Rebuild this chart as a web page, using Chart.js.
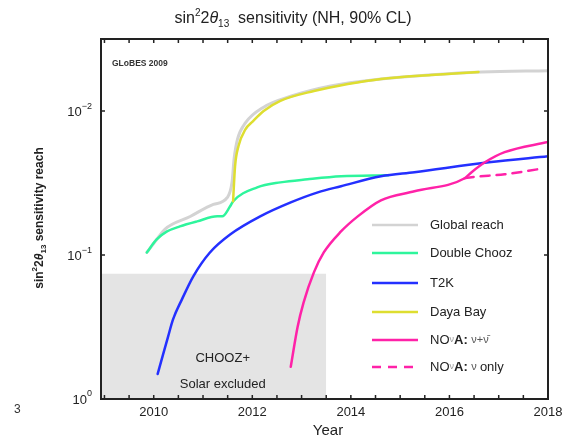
<!DOCTYPE html>
<html>
<head>
<meta charset="utf-8">
<title>sin2 2theta13 sensitivity</title>
<script src="https://cdn.jsdelivr.net/npm/chart.js@4.4.0/dist/chart.umd.min.js"></script>
<style>
  html, body { margin: 0; padding: 0; background: #fff; }
</style>
</head>
<body>
<canvas id="myChart" width="575" height="439"></canvas>
<script>
// values (year, sin^2 2theta13 reach)
const globalYears = [2009.86, 2010.06, 2010.23, 2010.74, 2011.21, 2011.49, 2011.59, 2011.63, 2011.70, 2011.86, 2012.23, 2012.78, 2013.59, 2014.61, 2015.63, 2016.65, 2018.0];
const globalReach = [0.096, 0.078, 0.066, 0.054, 0.0445, 0.040, 0.031, 0.0216, 0.0157, 0.0121, 0.0094, 0.0079, 0.0067, 0.0060, 0.0056, 0.00535, 0.00525];

const dcYears = [2009.86, 2010.06, 2010.27, 2010.53, 2010.88, 2011.29, 2011.39, 2011.55, 2011.61, 2012.10, 2012.57, 2013.12, 2013.80, 2014.76];
const dcReach = [0.096, 0.078, 0.0686, 0.0633, 0.0584, 0.0539, 0.0539, 0.0459, 0.0424, 0.0339, 0.0313, 0.0298, 0.0284, 0.0279];

const t2kYears = [2010.08, 2010.19, 2010.29, 2010.39, 2010.57, 2010.80, 2011.14, 2011.55, 2012.16, 2012.78, 2013.33, 2013.80, 2014.61, 2015.29, 2016.80, 2018.0];
const t2kReach = [0.67, 0.49, 0.37, 0.281, 0.204, 0.141, 0.096, 0.072, 0.0539, 0.0431, 0.0367, 0.0333, 0.0284, 0.0266, 0.0227, 0.0206];

const dybYears = [2011.61, 2011.65, 2011.72, 2011.86, 2012.00, 2012.23, 2012.57, 2013.25, 2013.94, 2014.61, 2015.63, 2016.59];
const dybReach = [0.0424, 0.0242, 0.0175, 0.0134, 0.0119, 0.0100, 0.0085, 0.00726, 0.00649, 0.00598, 0.00561, 0.00535];

const novaYears = [2012.78, 2012.92, 2013.04, 2013.25, 2013.45, 2013.80, 2014.14, 2014.61, 2015.29, 2016.31, 2016.45, 2016.72, 2017.12, 2018.0];
const novaReach = [0.598, 0.315, 0.214, 0.132, 0.096, 0.0686, 0.0539, 0.0417, 0.0361, 0.0293, 0.0266, 0.0227, 0.0193, 0.0164];

const novaNuYears = [2016.31, 2016.45, 2017.12, 2017.85];
const novaNuReach = [0.0293, 0.0288, 0.0275, 0.0252];

// CHOOZ + solar excluded region
const choozYears = [2008.93, 2013.5];
const choozLimit = [0.135, 0.135];

const xTickLabels = [2010, 2012, 2014, 2016, 2018];
const yTickValues = [0.01, 0.1, 1];
const yTickExps = ['\u22122', '\u22121', '0'];

const FONT = '"Liberation Sans", Arial, sans-serif';

function pts(xs, ys) {
    return xs.map((x, i) => ({ x: x, y: ys[i] }));
}

// draws a run of text pieces (for super/subscripts)
function drawRich(ctx, parts, x, y, align) {
    let total = 0;
    parts.forEach(p => {
        ctx.font = (p.w || '') + ' ' + p.s + 'px ' + (p.f || FONT);
        p.width = ctx.measureText(p.t).width;
        total += p.width;
    });
    let cx = align === 'center' ? x - total / 2 : (align === 'right' ? x - total : x);
    ctx.textAlign = 'left';
    ctx.textBaseline = 'middle';
    parts.forEach(p => {
        ctx.font = (p.w || '') + ' ' + p.s + 'px ' + (p.f || FONT);
        ctx.fillStyle = p.c || '#222';
        ctx.fillText(p.t, cx, y + (p.dy || 0));
        cx += p.width;
    });
}

const decorPlugin = {
    id: 'decor',
    afterDatasetsDraw(chart) {
        const ctx = chart.ctx;
        const a = chart.chartArea;
        const xs = chart.scales.x, ys = chart.scales.y;
        ctx.save();

        // frame
        ctx.strokeStyle = '#222';
        ctx.lineWidth = 2;
        ctx.strokeRect(a.left, a.top, a.right - a.left, a.bottom - a.top);

        // inward ticks
        ctx.lineWidth = 1.5;
        ctx.beginPath();
        xs.ticks.forEach(t => {
            const px = xs.getPixelForValue(t.value);
            ctx.moveTo(px, a.bottom); ctx.lineTo(px, a.bottom - 4);
            ctx.moveTo(px, a.top); ctx.lineTo(px, a.top + 4);
        });
        yTickValues.forEach(v => {
            const py = ys.getPixelForValue(v);
            ctx.moveTo(a.left, py); ctx.lineTo(a.left + 4, py);
            ctx.moveTo(a.right, py); ctx.lineTo(a.right - 4, py);
        });
        ctx.stroke();

        // y tick labels 10^n
        yTickValues.forEach((v, i) => {
            const py = ys.getPixelForValue(v);
            drawRich(ctx, [
                { t: '10', s: 13 },
                { t: yTickExps[i], s: 9, dy: -6 }
            ], 92, py + 1, 'right');
        });

        // title
        drawRich(ctx, [
            { t: 'sin', s: 16 },
            { t: '2', s: 10, dy: -6 },
            { t: '2', s: 16 },
            { t: '\u03b8', s: 16, w: 'italic' },
            { t: '13', s: 10, dy: 5 },
            { t: '  sensitivity (NH, 90% CL)', s: 16 }
        ], 293, 19, 'center');

        // y axis title
        ctx.save();
        ctx.translate(40, 218);
        ctx.rotate(-Math.PI / 2);
        drawRich(ctx, [
            { t: 'sin', s: 12, w: 'bold' },
            { t: '2', s: 8, w: 'bold', dy: -5 },
            { t: '2', s: 12, w: 'bold' },
            { t: '\u03b8', s: 12, w: 'bold italic' },
            { t: '13', s: 8, w: 'bold', dy: 4 },
            { t: ' sensitivity reach', s: 12, w: 'bold' }
        ], 0, 0, 'center');
        ctx.restore();

        // x axis title
        drawRich(ctx, [{ t: 'Year', s: 15 }], 328, 431, 'center');

        // stray glyph at the left edge of the original
        drawRich(ctx, [{ t: '3', s: 12, c: '#333' }], 14, 410, 'left');

        // GLoBES stamp
        drawRich(ctx, [{ t: 'GLoBES 2009', s: 8.5, w: 'bold', c: '#333' }], 112, 64, 'left');

        // excluded region text
        const cx = xs.getPixelForValue(2011.4);
        drawRich(ctx, [{ t: 'CHOOZ+', s: 13 }], cx, 358, 'center');
        drawRich(ctx, [{ t: 'Solar excluded', s: 13 }], cx, 384, 'center');

        // legend
        const rows = [225, 253, 283, 312, 340, 367];
        const items = chart.data.datasets.filter(d => d.legendText);
        items.sort((p, q) => p.legendRow - q.legendRow);
        items.forEach((d, i) => {
            const y = rows[i];
            ctx.strokeStyle = d.borderColor;
            ctx.lineWidth = 2.5;
            ctx.setLineDash(d.borderDash || []);
            ctx.beginPath();
            ctx.moveTo(372, y); ctx.lineTo(418, y);
            ctx.stroke();
            ctx.setLineDash([]);
            drawRich(ctx, d.legendText, 430, y, 'left');
        });

        ctx.restore();
    }
};

const nu = '\u03bd';
const datasets = [
    {
        label: 'CHOOZ', data: pts(choozYears, choozLimit),
        borderWidth: 0, backgroundColor: '#e4e4e4', fill: { value: 1 }, order: 10
    },
    {
        label: 'Global reach', data: pts(globalYears, globalReach),
        borderColor: '#d3d3d3', borderWidth: 3, order: 6, legendRow: 0,
        legendText: [{ t: 'Global reach', s: 13 }]
    },
    {
        label: 'Double Chooz', data: pts(dcYears, dcReach),
        borderColor: '#2ef59c', borderWidth: 2.5, order: 5, legendRow: 1,
        legendText: [{ t: 'Double Chooz', s: 13 }]
    },
    {
        label: 'T2K', data: pts(t2kYears, t2kReach),
        borderColor: '#2430ff', borderWidth: 2.5, order: 4, legendRow: 2,
        legendText: [{ t: 'T2K', s: 13 }]
    },
    {
        label: 'Daya Bay', data: pts(dybYears, dybReach),
        borderColor: '#dede30', borderWidth: 2.5, order: 3, legendRow: 3,
        legendText: [{ t: 'Daya Bay', s: 13 }]
    },
    {
        label: 'NOvA nu+nubar', data: pts(novaYears, novaReach),
        borderColor: '#ff22a8', borderWidth: 2.5, order: 2, legendRow: 4,
        legendText: [{ t: 'NO', s: 13 }, { t: nu, s: 9, c: '#999' }, { t: 'A: ', s: 13, w: 'bold' },
                     { t: nu + '+' + nu + '\u0304', s: 11, c: '#555' }]
    },
    {
        label: 'NOvA nu only', data: pts(novaNuYears, novaNuReach),
        borderColor: '#ff22a8', borderWidth: 2.5, borderDash: [9, 7], order: 1, legendRow: 5,
        legendText: [{ t: 'NO', s: 13 }, { t: nu, s: 9, c: '#999' }, { t: 'A: ', s: 13, w: 'bold' },
                     { t: nu + ' ', s: 11, c: '#555' }, { t: 'only', s: 13 }]
    }
];

const ctx = document.getElementById('myChart').getContext('2d');
const myChart = new Chart(ctx, {
    type: 'line',
    data: { datasets: datasets },
    options: {
        responsive: false,
        animation: false,
        layout: { padding: { left: 0, right: 27, top: 39, bottom: 0 } },
        elements: {
            point: { radius: 0 },
            line: { cubicInterpolationMode: 'monotone', borderCapStyle: 'round' }
        },
        plugins: {
            legend: { display: false },
            tooltip: { enabled: false }
        },
        scales: {
            x: {
                type: 'linear', min: 2008.93, max: 2018,
                grid: { display: false, drawTicks: false },
                border: { display: false },
                afterBuildTicks: (s) => {
                    const t = [];
                    for (let v = 2009; v <= 2018; v += 0.5) t.push({ value: v });
                    s.ticks = t;
                },
                ticks: {
                    autoSkip: false, maxRotation: 0, padding: 6,
                    color: '#222', font: { size: 13, family: FONT },
                    callback: (v) => xTickLabels.includes(v) ? String(v) : ''
                },
                afterFit: (s) => { s.height = 40; }
            },
            y: {
                type: 'logarithmic', reverse: true, min: 0.00316, max: 1,
                grid: { display: false, drawTicks: false },
                border: { display: false },
                ticks: { display: false },
                afterFit: (s) => { s.width = 101; }
            }
        }
    },
    plugins: [decorPlugin]
});
</script>
</body>
</html>
